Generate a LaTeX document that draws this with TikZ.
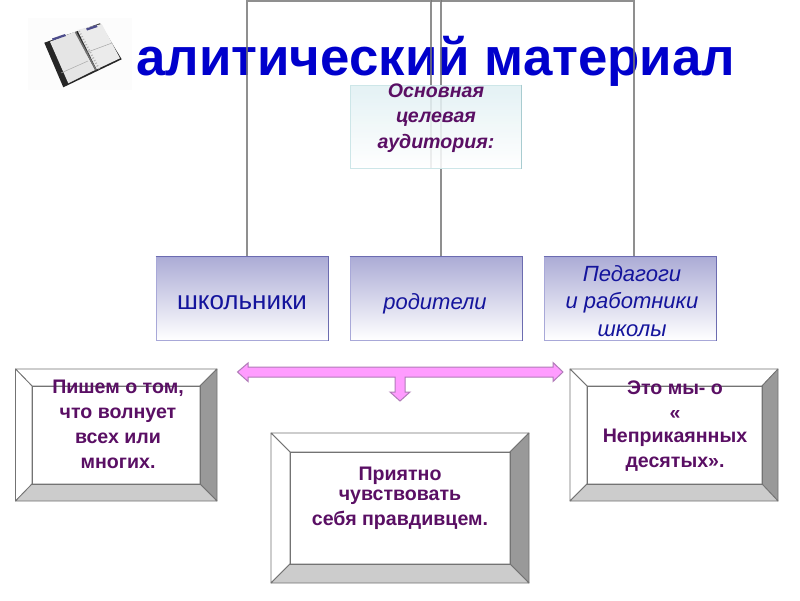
\documentclass[tikz,border=0pt]{standalone}
\usepackage{fontspec}
\setmainfont{Liberation Sans}
\definecolor{titleblue}{HTML}{0000CC}
\definecolor{plum}{HTML}{5A0F64}
\definecolor{inkblue}{HTML}{14149C}
\definecolor{linegray}{HTML}{747474}
\definecolor{pinkfill}{HTML}{FF9CFF}
\definecolor{pinkline}{HTML}{B07CB8}
\definecolor{kidtop}{HTML}{ACACD6}
\definecolor{rimblue}{HTML}{6C6CB0}
\definecolor{softblue}{HTML}{A8A8D8}
\definecolor{roottop}{HTML}{E0F0F3}
\definecolor{rimteal}{HTML}{A8CCD0}
\definecolor{softteal}{HTML}{CDE6E8}
\tikzset{
  x=1pt,y=-1pt,
  titletext/.style={anchor=base west,inner sep=0,font=\fontsize{52.8}{54}\selectfont\bfseries,text=titleblue},
  wire/.style={draw=linegray,draw opacity=.8,line width=2pt},
  rootbox/.style={rectangle,minimum width=171pt,minimum height=83pt,inner sep=0,
    top color=roottop,bottom color=white,fill opacity=.86,draw=softteal,line width=1pt},
  kidbox/.style={rectangle,minimum width=172pt,minimum height=83pt,inner sep=0,
    top color=kidtop,bottom color=white,draw=softblue,line width=1pt},
  kidtext/.style={anchor=base,inner sep=0,align=center,text=inkblue,font=\fontsize{22}{27.5}\selectfont\itshape},
  roottext/.style={anchor=base,inner sep=0,align=center,text=plum,font=\fontsize{19.6}{25.5}\selectfont\bfseries\itshape},
  frametext/.style={anchor=base,inner sep=0,align=center,text=plum,font=\fontsize{19.6}{25}\selectfont\bfseries},
  framebox/.style={rectangle,inner sep=0,line width=.8pt},
  facet/.style={draw=black!55,line width=.8pt,line join=round},
  pinkarrow/.style={fill=pinkfill,draw=pinkline,line width=1pt,line join=miter},
}
% \bevelframe{name}{x1}{y1}{x2}{y2}{ix1}{iy1}{ix2}{iy2}
\newcommand{\bevelframe}[9]{%
  \fill[white] (#2,#3) rectangle (#4,#5);
  \draw[facet,fill=white] (#2,#3) -- (#4,#3) -- (#8,#7) -- (#6,#7) -- cycle;
  \draw[facet,fill=white] (#2,#3) -- (#6,#7) -- (#6,#9) -- (#2,#5) -- cycle;
  \draw[facet,fill=black!40] (#4,#3) -- (#4,#5) -- (#8,#9) -- (#8,#7) -- cycle;
  \draw[facet,fill=black!20] (#2,#5) -- (#4,#5) -- (#8,#9) -- (#6,#9) -- cycle;
  \node[framebox,draw=black!55,minimum width=#8pt-#6pt,minimum height=#9pt-#7pt] (#1) at ({(#6+#8)/2},{(#7+#9)/2}) {};
}
\begin{document}
\begin{tikzpicture}
\path[use as bounding box] (0,0) rectangle (800,600);
\fill[white] (0,0) rectangle (800,600);

% notebook icon
\fill[black!1] (28,18) rectangle (132,90);
\fill[black!85] (44.3,42.7) -- (100,23.3) -- (121.7,59.3) -- (63.3,87.3) -- cycle;
\fill[black!10] (50,41.7) -- (75,31.7) -- (95,70) -- (68.3,83.3) -- cycle;
\fill[black!8] (77.3,30) -- (101.7,24) -- (120,58.3) -- (96.7,69.3) -- cycle;
\draw[black!35,line width=.5pt] (61,73) -- (88,61) (85,53) -- (112,43);
\draw[black!55,line width=1.6pt] (75.5,32) -- (96,70);
\draw[black!30,dash pattern=on 1pt off 2pt,line width=2pt] (79,31) -- (99,69);
\fill[black!65!blue!70!white] (52,38.5) -- (65,34) -- (66,36) -- (53,40.5) -- cycle;
\fill[black!65!blue!70!white] (86,28.5) -- (96.5,25) -- (97.5,27) -- (87,30.5) -- cycle;

% title
\node[titletext] (heading) at (136,75) {алитический материал};

% connectors: bus at the very top of the picture
\coordinate (busA) at (247,1);
\coordinate (busB) at (431,1);
\coordinate (busC) at (441,1);
\coordinate (busD) at (634,1);
\coordinate (rootL) at (431,168);
\coordinate (kidA) at (247,257);
\coordinate (kidB) at (441,257);
\coordinate (kidC) at (634,257);
\draw[wire] (rootL) -- (busB) -- (busA) -- (kidA);
\draw[wire] (busB) -- (busC) -- (kidB);
\draw[wire] (busC) -- (busD) -- (kidC);

% root
\node[rootbox] (root) at (435.5,126.5) {};
\draw[rimteal,line width=1.2pt] (root.north east) -- (root.south east);
\node[roottext] (roottxt) at (436,148) {Основная\\целевая\\аудитория:};

% children
\node[kidbox] (kid1) at (242,298.5) {};
\node[kidbox] (kid2) at (436,298.5) {};
\node[kidbox] (kid3) at (630,298.5) {};
\foreach \k in {kid1,kid2,kid3}{
  \draw[rimblue,line width=1.3pt] (\k.north west) -- (\k.north east) -- (\k.south east);
}
\node[kidtext,font=\fontsize{26}{26}\selectfont] (kidtxt1) at (242,309) {школьники};
\node[kidtext] (kidtxt2) at (435,309) {родители};
\node[kidtext] (kidtxt3) at (632,336) {Педагоги\\и работники\\школы};

% pink arrow
\draw[pinkarrow] (237.5,372) -- (248,363) -- (248,367) -- (553,367) -- (553,362.5) -- (563,372)
  -- (553,381.5) -- (553,377) -- (405,377) -- (405,392) -- (410,392) -- (400,401) -- (390,392)
  -- (395,392) -- (395,377) -- (248,377) -- (248,381.5) -- cycle;

% bevel frames
\bevelframe{frameA}{15.5}{369}{217}{501}{32}{386}{200}{484}
\bevelframe{frameB}{271}{433}{529}{583}{290}{452}{510}{564}
\bevelframe{frameC}{570}{369}{778}{501}{587}{386}{762}{484}

\node[frametext] (txtA) at (118,468) {Пишем о том,\\ что волнует\\всех или\\многих.};
\node[frametext] (txtB) at (400,525) {Приятно\\[-5pt]чувствовать\\себя правдивцем.};
\node[frametext] (txtC) at (675,467) {Это мы- о\\«\\[-2pt]Неприкаянных\\десятых».};
\end{tikzpicture}
\end{document}
